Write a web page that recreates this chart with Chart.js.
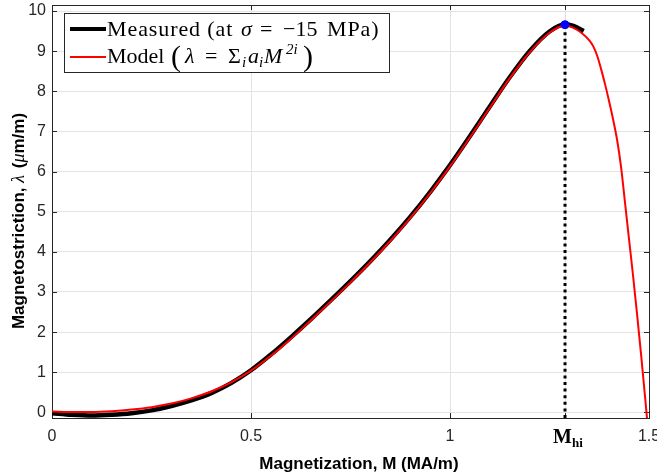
<!DOCTYPE html>
<html>
<head>
<meta charset="utf-8">
<script src="https://cdn.jsdelivr.net/npm/chart.js@4.4.0/dist/chart.umd.min.js"></script>
<style>
  html, body { margin: 0; padding: 0; background: #fff; }
</style>
</head>
<body>
<canvas id="chart" width="657" height="475"></canvas>
<script>
// measured curve (black)
const measuredM = [0, 0.05, 0.1, 0.15, 0.2, 0.25, 0.3, 0.35, 0.4, 0.45, 0.5, 0.55, 0.6, 0.65, 0.7, 0.75,
  0.8, 0.85, 0.9, 0.95, 1.0, 1.05, 1.1, 1.15, 1.2, 1.25, 1.289, 1.31, 1.336];
const measuredL = [-0.02, -0.06, -0.08, -0.06, -0.02, 0.05, 0.16, 0.3, 0.48, 0.73, 1.05, 1.44, 1.87, 2.32, 2.79, 3.27,
  3.77, 4.3, 4.87, 5.49, 6.16, 6.88, 7.62, 8.35, 9.0, 9.49, 9.67, 9.63, 9.5];

// model fit (red)
const modelM = [0, 0.05, 0.1, 0.15, 0.2, 0.25, 0.3, 0.35, 0.4, 0.45, 0.5, 0.55, 0.6, 0.65, 0.7, 0.75,
  0.8, 0.85, 0.9, 0.95, 1.0, 1.05, 1.1, 1.15, 1.2, 1.25, 1.289, 1.31, 1.33, 1.35, 1.36, 1.37, 1.38,
  1.39, 1.40, 1.41, 1.42, 1.43, 1.44, 1.45, 1.46, 1.47, 1.48, 1.49, 1.50];
const modelL = [0.02, 0.01, 0.01, 0.03, 0.07, 0.13, 0.22, 0.35, 0.52, 0.75, 1.04, 1.41, 1.83, 2.29, 2.76, 3.24,
  3.74, 4.27, 4.84, 5.46, 6.13, 6.85, 7.59, 8.32, 8.97, 9.46, 9.64, 9.58, 9.46, 9.27, 9.12, 8.88, 8.54,
  8.16, 7.74, 7.29, 6.78, 6.1, 5.2, 4.3, 3.4, 2.45, 1.45, 0.4, -0.7];

const mHi = 1.289;
const lambdaPeak = 9.66;
const xMin = 0, xMax = 1.5;
const yMin = -0.14, yMax = 10.15;
const xTicks = [0, 0.5, 1, mHi, 1.5];
const xTickLabels = ['0', '0.5', '1', '', '1.5'];
const yTicks = [0, 1, 2, 3, 4, 5, 6, 7, 8, 9, 10];

const AXIS = '#262626';
const SANS = '"Liberation Sans", Arial, sans-serif';
const SERIF = '"Liberation Serif", "Times New Roman", serif';

const toPoints = (xs, ys) => xs.map((x, i) => ({ x: x, y: ys[i] }));

// draws a run of text pieces with their own fonts and offsets
function drawRich(ctx, parts, x, y) {
  parts.forEach(p => {
    ctx.font = p.f;
    if (p.at !== undefined) x = p.at;
    ctx.fillText(p.t, x, y + (p.dy || 0));
    x += ctx.measureText(p.t).width + (p.gap || 0);
  });
  return x;
}
function richWidth(ctx, parts) {
  let w = 0;
  parts.forEach(p => { ctx.font = p.f; w += ctx.measureText(p.t).width + (p.gap || 0); });
  return w;
}

const framePlugin = {
  id: 'frame',
  beforeDatasetsDraw(chart) {
    const { ctx, chartArea: a, scales: { x, y } } = chart;
    ctx.save();
    ctx.strokeStyle = AXIS;
    ctx.lineWidth = 1;
    ctx.strokeRect(Math.round(a.left) + 0.5, Math.round(a.top) + 0.5,
      Math.round(a.right - a.left), Math.round(a.bottom - a.top));
    ctx.beginPath();
    const t = 5;
    xTicks.forEach(v => {
      const px = Math.round(x.getPixelForValue(v)) + 0.5;
      ctx.moveTo(px, a.bottom); ctx.lineTo(px, a.bottom - t);
      ctx.moveTo(px, a.top); ctx.lineTo(px, a.top + t);
    });
    yTicks.forEach(v => {
      const py = Math.round(y.getPixelForValue(v)) + 0.5;
      ctx.moveTo(a.left, py); ctx.lineTo(a.left + t, py);
      ctx.moveTo(a.right, py); ctx.lineTo(a.right - t, py);
    });
    ctx.stroke();
    ctx.restore();
  },
  afterDraw(chart) {
    const { ctx, scales: { x } } = chart;
    ctx.save();
    ctx.fillStyle = '#000';
    ctx.textBaseline = 'alphabetic';

    // M_hi tick label
    const hx = x.getPixelForValue(mHi);
    drawRich(ctx, [
      { t: 'M', f: 'bold 20px ' + SERIF },
      { t: 'hi', f: 'bold 13px ' + SERIF, dy: 4 }
    ], hx - 12, 443);

    // axis titles
    const xt = [{ t: 'Magnetization, M (MA/m)', f: 'bold 17px ' + SANS }];
    drawRich(ctx, xt, 359 - richWidth(ctx, xt) / 2, 469);

    const yt = [
      { t: 'Magnetostriction, ', f: 'bold 17px ' + SANS },
      { t: 'λ', f: 'italic 18px ' + SERIF, gap: 2 },
      { t: ' (', f: 'bold 17px ' + SANS },
      { t: 'μ', f: 'italic 18px ' + SERIF },
      { t: 'm/m)', f: 'bold 17px ' + SANS }
    ];
    ctx.translate(24, 221);
    ctx.rotate(-Math.PI / 2);
    drawRich(ctx, yt, -richWidth(ctx, yt) / 2, 0);
    ctx.setTransform(1, 0, 0, 1, 0, 0);

    // legend
    const bx = 64.5, by = 13.5, bw = 325, bh = 59;
    ctx.fillStyle = '#fff';
    ctx.fillRect(bx, by, bw, bh);
    ctx.strokeStyle = '#262626';
    ctx.lineWidth = 1;
    ctx.strokeRect(bx, by, bw, bh);

    ctx.lineCap = 'butt';
    ctx.strokeStyle = '#000';
    ctx.lineWidth = 4;
    ctx.beginPath(); ctx.moveTo(70, 29); ctx.lineTo(106, 29); ctx.stroke();
    ctx.strokeStyle = '#ff0000';
    ctx.lineWidth = 2;
    ctx.beginPath(); ctx.moveTo(70, 57); ctx.lineTo(106, 57); ctx.stroke();

    ctx.fillStyle = '#000';
    const f22 = '22px ' + SERIF, i22 = 'italic 22px ' + SERIF, i15 = 'italic 15px ' + SERIF;
    ctx.letterSpacing = '0.9px';
    drawRich(ctx, [{ t: 'Measured (at', f: f22 }], 107, 36);
    drawRich(ctx, [{ t: 'MPa)', f: f22 }], 327, 36);
    ctx.letterSpacing = '0px';
    drawRich(ctx, [
      { t: 'σ', f: i22, at: 241 },
      { t: '=', f: f22, at: 260 },
      { t: '−15', f: f22, at: 283 }
    ], 241, 36);
    drawRich(ctx, [
      { t: 'Model', f: f22, at: 107 },
      { t: '(', f: '30px ' + SERIF, at: 171, dy: 3 },
      { t: 'λ', f: i22, at: 185 },
      { t: '=', f: f22, at: 205 },
      { t: 'Σ', f: f22, at: 228 },
      { t: 'i', f: i15, dy: 4, at: 242 },
      { t: 'a', f: i22, at: 248 },
      { t: 'i', f: i15, dy: 4, at: 259 },
      { t: 'M', f: i22, at: 264 },
      { t: '2i', f: i15, dy: -9, at: 286 },
      { t: ')', f: '30px ' + SERIF, at: 303, dy: 3 }
    ], 107, 63);
    ctx.restore();
  }
};

new Chart(document.getElementById('chart'), {
  type: 'scatter',
  data: {
    datasets: [
      {
        label: 'Peak',
        data: [{ x: mHi, y: lambdaPeak }],
        showLine: false,
        pointRadius: 4,
        pointBackgroundColor: '#0000ff',
        pointBorderColor: '#0000ff',
        order: 0
      },
      {
        label: 'M_hi',
        data: [{ x: mHi, y: yMin }, { x: mHi, y: lambdaPeak }],
        showLine: true,
        borderColor: '#000',
        borderWidth: 3,
        borderDash: [3, 3.6],
        pointRadius: 0,
        order: 1
      },
      {
        label: 'Model',
        data: toPoints(modelM, modelL),
        showLine: true,
        borderColor: '#ff0000',
        borderWidth: 2,
        pointRadius: 0,
        cubicInterpolationMode: 'monotone',
        order: 2
      },
      {
        label: 'Measured',
        data: toPoints(measuredM, measuredL),
        showLine: true,
        borderColor: '#000',
        borderWidth: 4.5,
        pointRadius: 0,
        cubicInterpolationMode: 'monotone',
        order: 3
      }
    ]
  },
  options: {
    responsive: false,
    animation: false,
    devicePixelRatio: 1,
    layout: { padding: { top: 3, right: 8, left: 0, bottom: 0 } },
    plugins: { legend: { display: false }, tooltip: { enabled: false } },
    scales: {
      x: {
        type: 'linear',
        min: xMin,
        max: xMax,
        afterBuildTicks: s => { s.ticks = xTicks.map(v => ({ value: v })); },
        afterFit: s => { s.height = 57; s.paddingLeft = 0; s.paddingRight = 0; },
        ticks: {
          autoSkip: false,
          maxRotation: 0,
          padding: 9,
          color: AXIS,
          font: { family: SANS, size: 16 },
          callback: (v, i) => xTickLabels[i]
        },
        grid: { color: '#e3e3e3', drawTicks: false },
        border: { display: false }
      },
      y: {
        type: 'linear',
        min: yMin,
        max: yMax,
        afterBuildTicks: s => { s.ticks = yTicks.map(v => ({ value: v })); },
        afterFit: s => { s.width = 52; s.paddingTop = 0; s.paddingBottom = 0; },
        ticks: {
          padding: 6,
          color: AXIS,
          font: { family: SANS, size: 16 }
        },
        grid: { color: '#e3e3e3', drawTicks: false },
        border: { display: false }
      }
    }
  },
  plugins: [framePlugin]
});
</script>
</body>
</html>
